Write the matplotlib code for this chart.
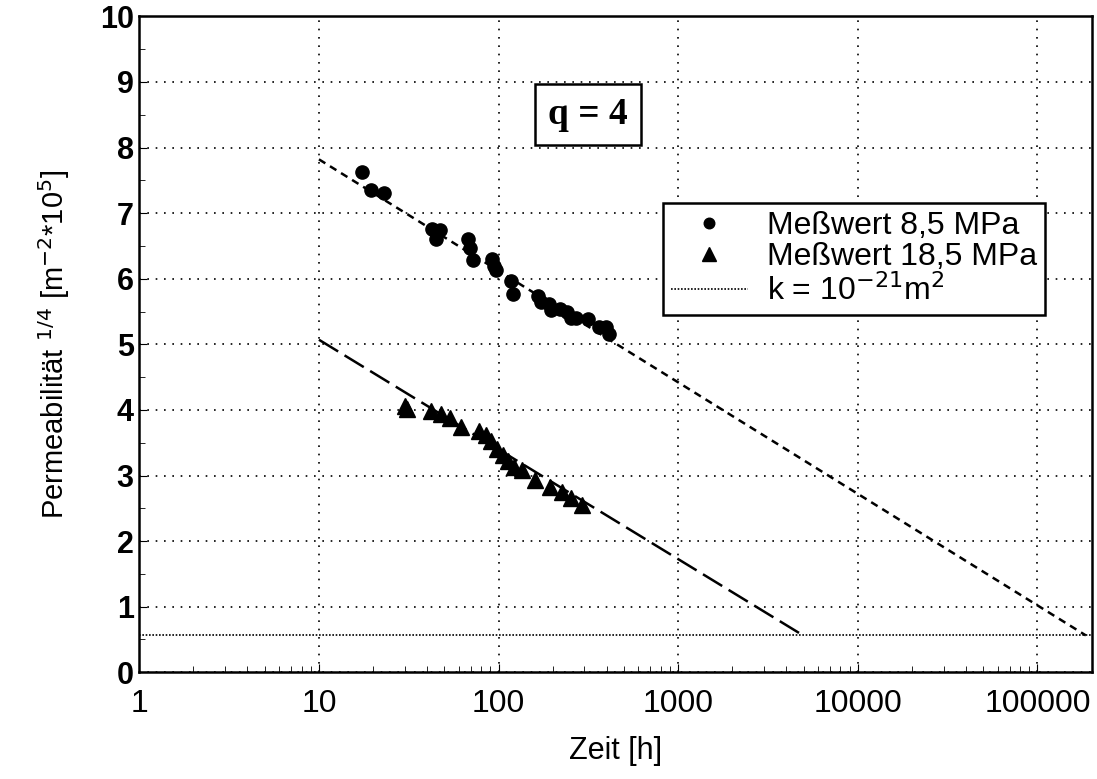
import numpy as np
import matplotlib.pyplot as plt

# Messwerte 8,5 MPa
t_85 = [17.4, 19.4, 22.9, 42.6, 47.5, 44.9, 67.3, 69.3, 71.7, 91.8, 94.7, 96.6,
        118, 119.6, 164.8, 171.9, 191.3, 195.4, 220.4, 241.8, 252.2, 268.7,
        316, 362.5, 394.6, 412]
p_85 = [7.62, 7.36, 7.30, 6.76, 6.75, 6.61, 6.60, 6.47, 6.29, 6.30, 6.19, 6.13,
        5.96, 5.77, 5.73, 5.64, 5.62, 5.52, 5.54, 5.49, 5.40, 5.40,
        5.39, 5.26, 5.26, 5.16]

# Messwerte 18,5 MPa
t_185 = [30.1, 31.0, 41.8, 48.1, 54.0, 62.1, 78.2, 85.2, 91.2, 98.1, 105.5,
         112.9, 121.4, 135.1, 160, 194, 225, 253.6, 291]
p_185 = [4.06, 4.02, 3.99, 3.94, 3.87, 3.74, 3.68, 3.61, 3.53, 3.41, 3.32,
         3.22, 3.13, 3.09, 2.93, 2.82, 2.75, 2.66, 2.55]

# Ausgleichsgeraden (Endpunkte)
fit_85_t = [10, 186000]
fit_85_p = [7.82, 0.562]
fit_185_t = [10, 4960]
fit_185_p = [5.07, 0.562]

k_level = 0.562  # k = 1e-21 m^2

plt.rcParams['font.family'] = ['Liberation Sans', 'DejaVu Sans']

fig = plt.figure(figsize=(10.97, 7.79), dpi=100)
ax = fig.add_axes([0.127, 0.137, 0.868, 0.842])

ax.plot(t_85, p_85, 'o', color='black', markersize=9.5, label='Meßwert 8,5 MPa')
ax.plot(t_185, p_185, '^', color='black', markersize=12, label='Meßwert 18,5 MPa')
ax.plot(fit_85_t, fit_85_p, color='black', lw=1.8, dashes=(3, 2.2))
ax.plot(fit_185_t, fit_185_p, color='black', lw=1.8, dashes=(9, 3))
ax.axhline(k_level, color='black', lw=1.2, ls=(0, (1, 1)), label='k = 10$^{-21}$m$^2$')

ax.set_xscale('log')
ax.set_xlim(1, 2e5)
ax.set_ylim(0, 10)
ax.set_yticks(range(0, 11))
ax.set_yticks(np.arange(0.5, 10, 1), minor=True)
ax.set_xticks([1, 10, 100, 1000, 10000, 100000])
ax.set_xticklabels(['1', '10', '100', '1000', '10000', '100000'])
ax.tick_params(axis='x', which='major', labelsize=23, direction='in', length=6, pad=12)
ax.tick_params(axis='x', which='minor', direction='in', length=4)
ax.tick_params(axis='y', which='major', labelsize=22, direction='in', length=6, pad=4)
ax.tick_params(axis='y', which='minor', direction='in', length=4)
for lab in ax.get_yticklabels():
    lab.set_fontweight('bold')

ax.grid(True, which='major', color='black', ls=(0, (1, 4)), lw=1.2)
for s in ax.spines.values():
    s.set_linewidth(1.8)

ax.set_xlabel('Zeit [h]', fontsize=22, labelpad=12)
ax.set_ylabel('Permeabilität $^{1/4}$ [m$^{-2}$*10$^5$]', fontsize=21, labelpad=20)

ax.text(315, 8.5, 'q = 4', fontsize=27, fontweight='bold', family='Liberation Serif',
        ha='center', va='center',
        bbox=dict(boxstyle='square,pad=0.35', fc='white', ec='black', lw=1.8))

leg = ax.legend(loc='upper right', bbox_to_anchor=(0.968, 0.74), fontsize=23,
                fancybox=False, edgecolor='black', framealpha=1, handlelength=2.4,
                borderpad=0.25, labelspacing=0.05, handletextpad=0.6, markerscale=0.8)
leg.get_frame().set_linewidth(1.8)

plt.savefig('out.png', dpi=100)
